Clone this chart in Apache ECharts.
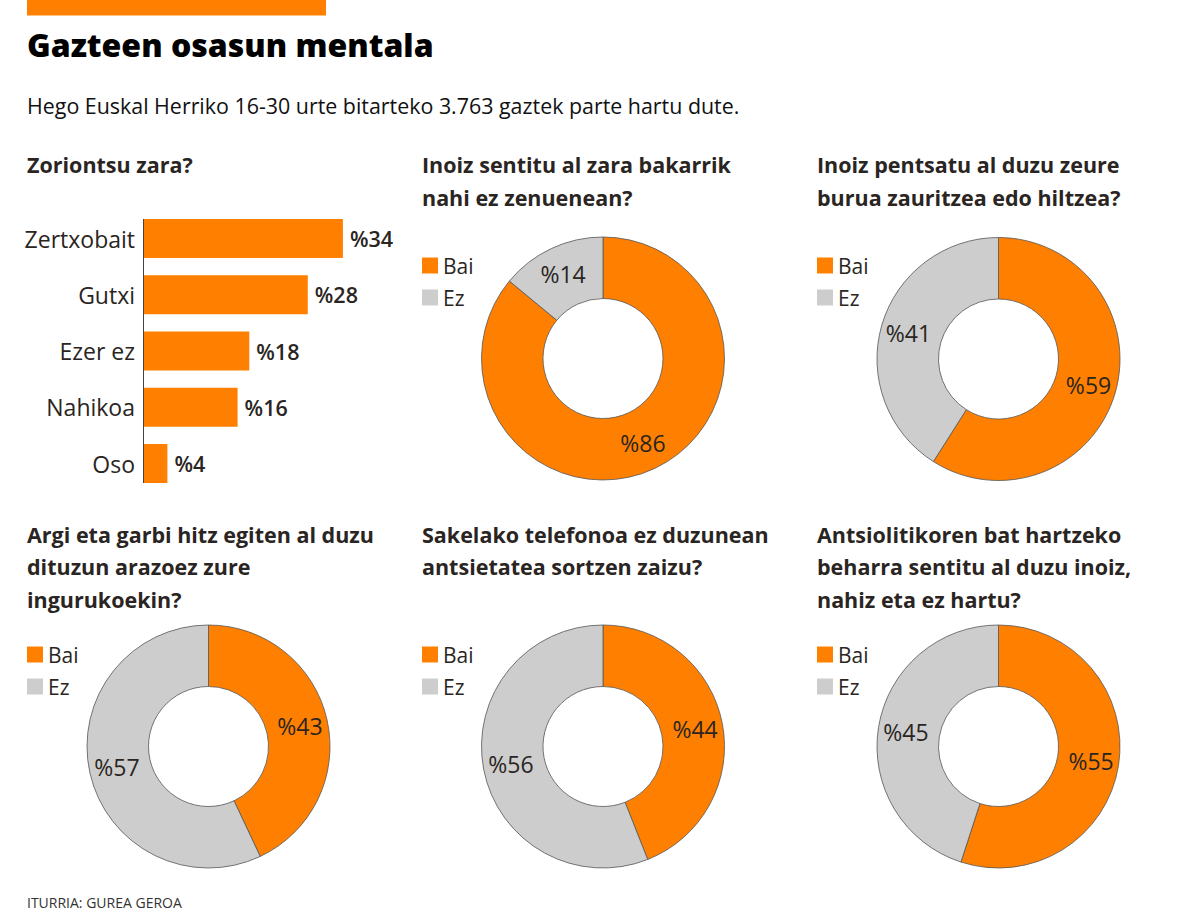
<!DOCTYPE html>
<html>
<head>
<meta charset="utf-8">
<script src="https://cdn.jsdelivr.net/npm/echarts@6/dist/echarts.min.js"></script>
<style>
  html, body { margin: 0; padding: 0; background: #ffffff; }
  #chart { width: 1200px; height: 920px; }
</style>
</head>
<body>
<div id="chart"></div>
<script>
// ---- Data ----
const mainTitle = 'Gazteen osasun mentala';
const subTitle = 'Hego Euskal Herriko 16-30 urte bitarteko 3.763 gaztek parte hartu dute.';
const sourceText = 'ITURRIA: GUREA GEROA';

const barTitle = 'Zoriontsu zara?';
const barCategories = ['Zertxobait', 'Gutxi', 'Ezer ez', 'Nahikoa', 'Oso'];
const barValues = [34, 28, 18, 16, 4];

const answerLabels = ['Bai', 'Ez'];

const pieTitles = [
  'Inoiz sentitu al zara bakarrik\nnahi ez zenuenean?',
  'Inoiz pentsatu al duzu zeure\nburua zauritzea edo hiltzea?',
  'Argi eta garbi hitz egiten al duzu\ndituzun arazoez zure\ningurukoekin?',
  'Sakelako telefonoa ez duzunean\nantsietatea sortzen zaizu?',
  'Antsiolitikoren bat hartzeko\nbeharra sentitu al duzu inoiz,\nnahiz eta ez hartu?'
];
const bakarrikValues = [86, 14];
const zauritzeaValues = [59, 41];
const argiValues = [43, 57];
const sakelakoValues = [44, 56];
const antsiolitikoValues = [55, 45];
const pieValues = [bakarrikValues, zauritzeaValues, argiValues, sakelakoValues, antsiolitikoValues];

// ---- Style / layout ----
const ORANGE = '#ff8000';
const GREY = '#cdcdcd';
const TXT = '#2a2522';
const FONT = "'Open Sans', 'Noto Sans', sans-serif";

const pieCenters = [[603, 358.5], [998.5, 359], [208.5, 746.5], [603, 746.5], [998.5, 746.5]];
const pieLegendPos = [[422, 255], [817, 255], [27, 644], [422, 644], [817, 644]];
const pieTitlePos = [[422, 148.7], [817, 148.7], [27, 518.1], [422, 518.1], [817, 518.1]];

const chart = echarts.init(document.getElementById('chart'), null, { renderer: 'svg' });

const series = [];
const legends = [];
const graphics = [];

// top accent bar
graphics.push({ type: 'rect', shape: { x: 27, y: 0, width: 299, height: 15.5 }, style: { fill: ORANGE } });
graphics.push({ type: 'text', style: { text: mainTitle, x: 27, y: 44.5, verticalAlign: 'middle',
  fontFamily: FONT, fontSize: 32, fontWeight: 800, fill: '#000' } });
graphics.push({ type: 'text', style: { text: subTitle, x: 27, y: 105.6, verticalAlign: 'middle',
  fontFamily: FONT, fontSize: 21.4, fontWeight: 400, fill: '#111' } });
graphics.push({ type: 'text', style: { text: barTitle, x: 27, y: 148.7, verticalAlign: 'top', lineHeight: 32.5,
  fontFamily: FONT, fontSize: 21.5, fontWeight: 700, fill: TXT } });
graphics.push({ type: 'text', style: { text: sourceText, x: 27, y: 902.5, verticalAlign: 'middle',
  fontFamily: FONT, fontSize: 14, fontWeight: 400, fill: '#333' } });

pieTitles.forEach((t, i) => {
  graphics.push({ type: 'text', style: { text: t, x: pieTitlePos[i][0], y: pieTitlePos[i][1], verticalAlign: 'top',
    lineHeight: 32.5, fontFamily: FONT, fontSize: 21.5, fontWeight: 700, fill: TXT } });
});

// bar chart
series.push({
  type: 'bar',
  xAxisIndex: 0, yAxisIndex: 0,
  data: barValues,
  barWidth: 39,
  itemStyle: { color: ORANGE },
  label: {
    show: true, position: 'right', distance: 7,
    formatter: p => '%' + p.value,
    fontFamily: FONT, fontSize: 21.5, fontWeight: 600, color: TXT
  },
  silent: true
});

// donuts
pieValues.forEach((vals, i) => {
  series.push({
    type: 'pie',
    center: pieCenters[i],
    radius: [60, 121.5],
    startAngle: 90,
    clockwise: true,
    silent: true,
    data: answerLabels.map((n, k) => ({ name: n, value: vals[k] })),
    itemStyle: { borderColor: '#555', borderWidth: 0.8 },
    label: {
      show: true, position: 'inside',
      formatter: p => '%' + p.value,
      fontFamily: FONT, fontSize: 23, fontWeight: 400, color: TXT
    },
    labelLine: { show: false },
    emphasis: { disabled: true }
  });
  legends.push({
    orient: 'vertical',
    left: pieLegendPos[i][0], top: pieLegendPos[i][1],
    padding: 0,
    itemWidth: 16, itemHeight: 16, itemGap: 11, itemTextGap: 5,
    icon: 'rect',
    selectedMode: false,
    itemStyle: { borderWidth: 0 },
    data: answerLabels,
    textStyle: { fontFamily: FONT, fontSize: 21, color: TXT }
  });
});

const option = {
  backgroundColor: '#ffffff',
  animation: false,
  color: [ORANGE, GREY],
  grid: [{ left: 144, top: 210.4, width: 234, height: 281.25, containLabel: false }],
  xAxis: [{ type: 'value', gridIndex: 0, min: 0, max: 40, show: false }],
  yAxis: [{
    type: 'category', gridIndex: 0, data: barCategories, inverse: true,
    axisLine: { show: false }, axisTick: { show: false },
    axisLabel: { margin: 9, fontFamily: FONT, fontSize: 23, color: TXT }
  }],
  legend: legends,
  series: series,
  graphic: { elements: graphics }
};

chart.setOption(option);

// vertical axis line spanning the bars, derived from the library scales
const barW = 39;
const pFirst = chart.convertToPixel({ gridIndex: 0 }, [0, barCategories[0]]);
const pLast = chart.convertToPixel({ gridIndex: 0 }, [0, barCategories[barCategories.length - 1]]);
graphics.push({
  type: 'line',
  shape: { x1: pFirst[0] - 0.5, y1: pFirst[1] - barW / 2, x2: pLast[0] - 0.5, y2: pLast[1] + barW / 2 },
  style: { stroke: '#444', lineWidth: 1 }
});
chart.setOption({ graphic: { elements: graphics } }, { replaceMerge: ['graphic'] });
</script>
</body>
</html>
